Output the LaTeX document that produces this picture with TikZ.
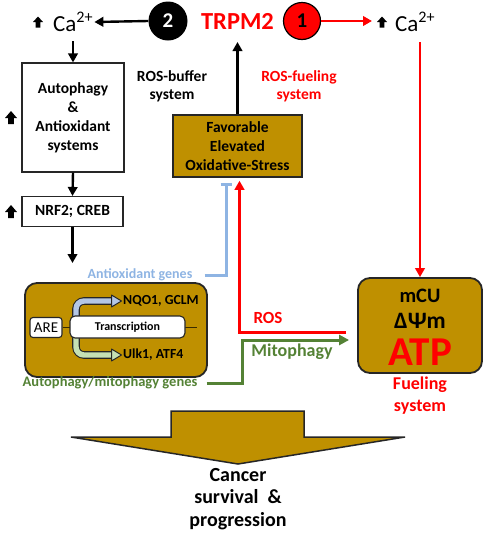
\documentclass[tikz,border=0pt]{standalone}
\usepackage{fontspec}
\setmainfont{Carlito}
\usetikzlibrary{arrows.meta}
\definecolor{gold}{HTML}{BF9000}
\definecolor{edge}{HTML}{262626}
\definecolor{rred}{HTML}{FF0000}
\definecolor{lblue}{HTML}{8EB4E3}
\definecolor{dgreen}{HTML}{548235}
\definecolor{pblue}{HTML}{B4C7E7}
\definecolor{pgreen}{HTML}{C5E0B4}
\begin{document}
\begin{tikzpicture}[x=1pt,y=-1pt,
  fnt/.style 2 args={font=\bfseries\fontsize{#1}{#2}\selectfont},
  box/.style={draw=edge,line width=1.1pt,fill=white,align=center,inner sep=0pt},
  goldbox/.style={draw=edge,line width=1.5pt,fill=gold,align=center,inner sep=0pt},
  arr/.style={line width=2.4pt,-{Triangle[length=9pt,width=9.5pt]}},
  redarr/.style={rred,line width=2.4pt,-{Triangle[length=9pt,width=9.5pt]}},
  bararr/.style={lblue,line width=3pt,-{Bar[width=11pt,line width=3pt]}},
  greenarr/.style={dgreen,line width=3pt,-{Triangle[length=10pt,width=10pt]}},
  pics/uparr/.style={code={\fill[black] (-2.8,6) -- (-2.8,0) -- (-6,0) -- (0,-7) -- (6,0) -- (2.8,0) -- (2.8,6) -- cycle;}},
  pics/smallup/.style={code={\fill[black] (-2.4,5.5) -- (-2.4,0) -- (-5,0) -- (0,-5.5) -- (5,0) -- (2.4,0) -- (2.4,5.5) -- cycle;}}
]
\useasboundingbox (0,0) rectangle (484,536);

% top row
\node[circle,fill=black,minimum size=39pt,inner sep=0pt,text=white,fnt={21}{24}] (c2) at (168,21) {2};
\node[text=rred,fnt={24.5}{28},inner sep=1pt] (trpm) at (237.5,21) {TRPM2};
\node[circle,fill=rred,draw=black,line width=1.2pt,minimum size=37pt,inner sep=0pt,fnt={21}{24}] (c1) at (302,21) {1};
\pic (uaL) at (38,22) {smallup};
\node[anchor=west,inner sep=1pt,font=\fontsize{23}{26}\selectfont] (caL) at (52,22) {Ca\textsuperscript{2+}};
\pic (uaR) at (382,22) {smallup};
\node[anchor=west,inner sep=1pt,font=\fontsize{23}{26}\selectfont] (caR) at (394,22) {Ca\textsuperscript{2+}};
\coordinate (caRtip) at (372,21);
\draw[arr] (c2.west) -- (caL.east);
\draw[redarr] (c1.east) -- (caRtip);

% left column
\node[box,fnt={15.5}{19},minimum width=102pt,minimum height=109pt] (auto) at (73,117.5) {Autophagy\\\&\\Antioxidant\\systems};
\pic (ua1) at (11,118) {uparr};
\node[box,fnt={15.5}{19},minimum width=101pt,minimum height=30pt] (nrf) at (72.5,211.5) {NRF2; CREB};
\pic (ua2) at (11,212) {uparr};
\coordinate (caLbot) at (73,41);
\coordinate (nrfend) at (72.5,263);
\draw[arr] (caLbot) -- (auto.north);
\draw[arr] (auto.south) -- (nrf.north);
\draw[arr] (nrf.south) -- (nrfend);

% system labels
\node[fnt={15.5}{18},align=center,inner sep=0pt] (buf) at (172,86) {ROS-buffer\\system};
\node[fnt={15.5}{18},align=center,inner sep=0pt,text=rred] (fuel) at (299,86) {ROS-fueling\\system};

% oxidative stress box
\node[goldbox,fnt={15.5}{19},minimum width=129pt,minimum height=62pt] (fav) at (237.5,146) {Favorable\\Elevated\\Oxidative-Stress};
\coordinate (trpmbot) at (237.5,42);
\draw[arr] (fav.north) -- (trpmbot);

% ATP box
\node[goldbox,rounded corners=12pt,line width=1.8pt,minimum width=124pt,minimum height=95pt] (atp) at (420,325.5) {};
\node[fnt={20.5}{24},inner sep=0pt] (mcu) at (420,296) {mCU};
\node[fnt={23.5}{27},inner sep=0pt] (dpsi) at (420,321) {ΔΨm};
\node[fnt={41}{44},inner sep=0pt,text=rred] (atpt) at (420,352) {ATP};
\node[fnt={18}{22},text=rred,align=center,inner sep=0pt] (fs) at (420,396) {Fueling\\system};
\coordinate (caRbot) at (420,42);
\draw[redarr] (caRbot) -- (atp.north);

% gene box
\node[goldbox,rounded corners=12pt,line width=1.8pt,minimum width=182pt,minimum height=94pt] (gene) at (116,330) {};
\node[box,rounded corners=3pt,minimum width=32pt,minimum height=20pt,font=\fontsize{15}{18}\selectfont] (are) at (46,327.5) {ARE};
\coordinate (lineend) at (197,327.5);
\draw[line width=1pt,color=black!70!gold] (are.east) -- (lineend);
% bent block arrows
\draw[edge,line width=7.6pt,rounded corners=8pt] (76,318) -- (76,301) -- (112,301);
\draw[pblue,line width=5.4pt,rounded corners=8pt] (76,319) -- (76,301) -- (112.8,301);
\draw[edge,line width=1pt,fill=pblue,line join=round] (111.5,295) -- (121.5,301) -- (111.5,307) -- cycle;
\draw[edge,line width=7.6pt,rounded corners=8pt] (76,337) -- (76,355) -- (112,355);
\draw[pgreen,line width=5.4pt,rounded corners=8pt] (76,336) -- (76,355) -- (112.8,355);
\draw[edge,line width=1pt,fill=pgreen,line join=round] (111.5,349) -- (121.5,355) -- (111.5,361) -- cycle;
\node[box,rounded corners=5pt,minimum width=115pt,minimum height=22pt,fnt={12}{14}] (trans) at (127.5,327) {Transcription};
\node[fnt={13.8}{16},anchor=west,inner sep=0pt] (nqo) at (123,301) {NQO1, GCLM};
\node[fnt={13.8}{16},anchor=west,inner sep=0pt] (ulk) at (123,355) {Ulk1, ATF4};

% gene labels and feedback connectors
\node[fnt={14}{16},text=lblue,inner sep=0pt] (antiox) at (140,275) {Antioxidant genes};
\node[fnt={14.5}{17},text=dgreen,inner sep=0pt] (autg) at (110,383) {Autophagy/mitophagy genes};
\coordinate (bcol) at (226,0);
\coordinate (rcol) at (239.5,0);
\coordinate (gcol) at (242,0);
\draw[bararr,shorten <=12pt] (antiox.east) -| ([yshift=-5pt]fav.south -| bcol);
\draw[redarr,line width=3pt,shorten <=11pt,shorten >=3pt] ([yshift=-6.5pt]atp.west) -| (fav.south -| rcol);
\draw[greenarr,shorten <=9pt,shorten >=8pt] (autg.east) -- (autg.east -| gcol) |- ([yshift=-14.5pt]atp.west);
\node[fnt={17}{20},text=rred,inner sep=0pt] (ros) at (268,318) {ROS};
\node[fnt={18}{21},text=dgreen,inner sep=0pt] (mito) at (292,352) {Mitophagy};

% big arrow and outcome
\draw[edge,line width=1.5pt,fill=gold,line join=miter] (171,411) -- (304,411) -- (304,437) -- (405,437) -- (238,464) -- (71,437) -- (171,437) -- cycle;
\node[fnt={20}{22.5},align=center,inner sep=0pt] (cancer) at (238,499) {Cancer\\survival~~\&\\progression};
\end{tikzpicture}
\end{document}
